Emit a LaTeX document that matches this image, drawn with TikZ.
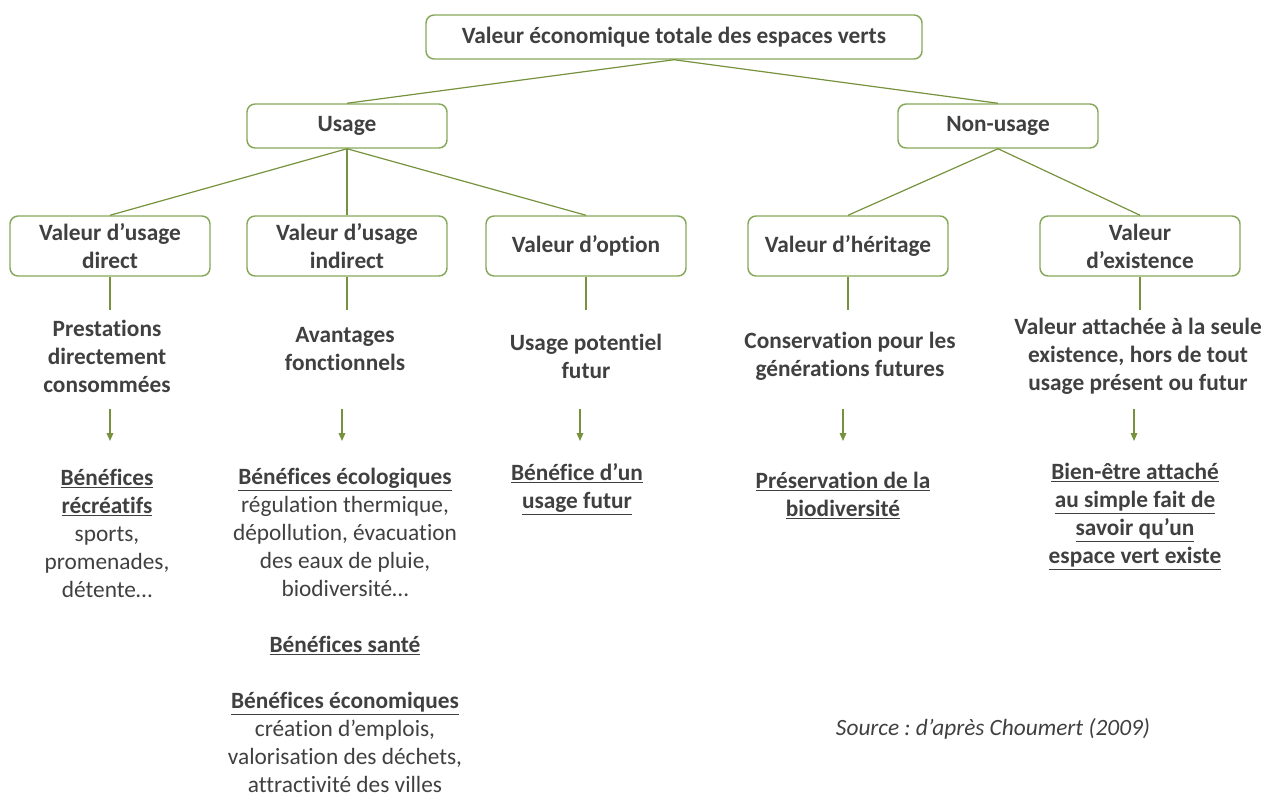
\documentclass[tikz,border=0pt]{standalone}
\usepackage{fontspec}
\setmainfont{Carlito}[Ligatures=NoCommon]
\usetikzlibrary{arrows.meta}
\frenchspacing
\definecolor{txt}{HTML}{404040}
\definecolor{boxgreen}{HTML}{86A85A}
\definecolor{linegreen}{HTML}{76923C}
\tikzset{
  vbox/.style={draw=boxgreen, line width=1.1pt, rounded corners=6pt, fill=white,
    minimum width=150pt, minimum height=45pt, align=center, text=txt,
    font=\fontsize{17.5}{21}\selectfont\bfseries, inner sep=2pt},
  topbox/.style={vbox, minimum width=372pt, minimum height=33pt},
  midbox/.style={vbox, minimum height=33pt},
  link/.style={draw=linegreen, line width=0.9pt},
  arr/.style={draw=linegreen, line width=0.9pt, -{Triangle[length=6pt,width=5pt]}},
  mtext/.style={align=center, text=txt, font=\fontsize{17.5}{21}\selectfont\bfseries, inner sep=0pt},
  btext/.style={align=center, text=txt, font=\fontsize{17.5}{21}\selectfont, inner sep=0pt},
}
\newcommand{\ub}[1]{\textbf{\underline{#1}}}
\begin{document}
\begin{tikzpicture}[x=0.75pt,y=-0.75pt]
\useasboundingbox (0,0) rectangle (1274,799);
% boxes
\node[topbox] (top) at (674,37) {Valeur économique totale des espaces verts};
\node[midbox] (usage) at (347,126) {Usage};
\node[midbox] (non) at (998,126) {Non-usage};
\node[vbox] (dir) at (110,246) {Valeur d’usage\\direct};
\node[vbox] (ind) at (347,246) {Valeur d’usage\\indirect};
\node[vbox] (opt) at (586,246) {Valeur d’option};
\node[vbox] (her) at (848,246) {Valeur d’héritage};
\node[vbox] (exi) at (1140,246) {Valeur\\d’existence};
% tree links
\draw[link] (top.south) -- (usage.north);
\draw[link] (top.south) -- (non.north);
\draw[link] (usage.south) -- (dir.north);
\draw[link] (usage.south) -- (ind.north);
\draw[link] (usage.south) -- (opt.north);
\draw[link] (non.south) -- (her.north);
\draw[link] (non.south) -- (exi.north);
% vertical stubs
\foreach \n/\x in {dir/110,ind/347,opt/586,her/848,exi/1140}{
  \coordinate (\n-s) at (\x,310);
  \draw[link] (\n.south) -- (\n-s);
}
% middle texts
\node[mtext] (dirm) at (107,356) {Prestations\\directement\\consommées};
\node[mtext] (indm) at (345,349) {Avantages\\fonctionnels};
\node[mtext] (optm) at (586,356) {Usage potentiel\\futur};
\node[mtext] (herm) at (850,356) {Conservation pour les\\générations futures};
\node[mtext] (exim) at (1138,356) {Valeur attachée à la seule\\existence, hors de tout\\usage présent ou futur};
% arrows
\foreach \n/\x in {dir/110,ind/342,opt/580,her/843,exi/1134}{
  \coordinate (\n-a1) at (\x,409);
  \coordinate (\n-a2) at (\x,441);
  \draw[arr] (\n-a1) -- (\n-a2);
}
% bottom texts
\node[btext, anchor=north] (dirb) at (107,469) {\ub{Bénéfices}\\\ub{récréatifs}\\sports,\\promenades,\\détente…};
\node[btext, anchor=north] (indb) at (345,468) {\ub{Bénéfices écologiques}\\régulation thermique,\\dépollution, évacuation\\des eaux de pluie,\\biodiversité…\\[21pt]\ub{Bénéfices santé}\\[21pt]\ub{Bénéfices économiques}\\création d’emplois,\\valorisation des déchets,\\attractivité des villes};
\node[btext, anchor=north] (optb) at (577,463) {\ub{Bénéfice d’un}\\\ub{usage futur}};
\node[btext, anchor=north] (herb) at (843,472) {\ub{Préservation de la}\\\ub{biodiversité}};
\node[btext, anchor=north] (exib) at (1135,463) {\ub{Bien-être attaché}\\\ub{au simple fait de}\\\ub{savoir qu’un}\\\ub{espace vert existe}};
% source
\node[btext, font=\fontsize{17.5}{21}\selectfont\itshape] (src) at (993,729) {Source : d’après Choumert (2009)};
\end{tikzpicture}
\end{document}
